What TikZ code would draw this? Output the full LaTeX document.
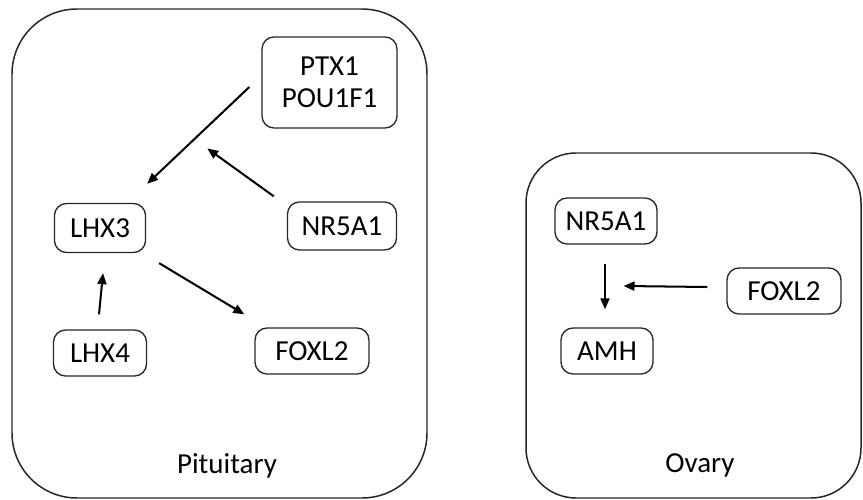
\documentclass[tikz,border=0pt]{standalone}
\usepackage{fontspec}
\setmainfont{Carlito}
\usetikzlibrary{arrows.meta, calc}
\definecolor{lnblack}{HTML}{262626}

\begin{document}
\begin{tikzpicture}[x=0.02cm, y=-0.02cm,
  gene/.style={rectangle, rounded corners=0.24cm, draw=lnblack, line width=0.75pt,
    minimum height=0.92cm, inner sep=0pt, font=\fontsize{16.5}{18}\selectfont},
  organ/.style={draw=lnblack, line width=0.85pt},
  >={Triangle[length=2.2mm, width=1.8mm]},
  arr/.style={draw=black, line width=1.15pt, ->},
  olab/.style={font=\fontsize{16.5}{19}\selectfont},
]

% Canvas
\useasboundingbox (0,0) rectangle (863,500);

% Organ outlines
\draw[organ, rounded corners=1.3cm] (12,9) rectangle (427,498);
\draw[organ, rounded corners=1cm] (526,153) rectangle (861,498);

% Pituitary genes
\node[gene, minimum width=2.7cm, minimum height=1.82cm, align=center] (ptx) at (329.5,82.5) {PTX1\\POU1F1};
\node[gene, minimum width=1.82cm, minimum height=0.98cm] (lhx3) at (100,228) {LHX3};
\node[gene, minimum width=2.18cm, minimum height=0.96cm] (pnr) at (342,226) {NR5A1};
\node[gene, minimum width=1.86cm] (lhx4) at (100,353) {LHX4};
\node[gene, minimum width=2.28cm] (pfox) at (312,351) {FOXL2};

% Ovary genes
\node[gene, minimum width=2.04cm] (onr) at (606,221) {NR5A1};
\node[gene, minimum width=2.28cm] (ofox) at (784,291) {FOXL2};
\node[gene, minimum width=1.84cm] (oamh) at (607,351) {AMH};

% Organ names
\node[olab] (pitlab) at (227,466) {Pituitary};
\node[olab] (ovlab) at (700,465) {Ovary};

% Pituitary arrows
\coordinate (pa) at ($(ptx.west)+(-12,4.5)$);
\coordinate (pb) at ($(lhx3.north east)+(1,-19)$);
\draw[arr] (pa) -- (pb);
\draw[arr] ($(pnr.north west)+(-13,-5)$) -- ($(pa)!0.5!(pb)+(9,13)$);
\draw[arr] ($(lhx4.north)+(-1,-15)$) -- ($(lhx3.south)+(3,20)$);
\draw[arr] ($(lhx3.south east)+(13,10)$) -- ($(pfox.north west)+(-10,-13)$);

% Ovary arrows
\draw[arr] ($(onr.south)+(-1,19)$) -- ($(oamh.north)+(-2,-18)$);
\draw[arr] ($(ofox.west)+(-19,-4)$) -- ($(onr.south)!0.5!(oamh.north)+(17,0)$);
\end{tikzpicture}
\end{document}
